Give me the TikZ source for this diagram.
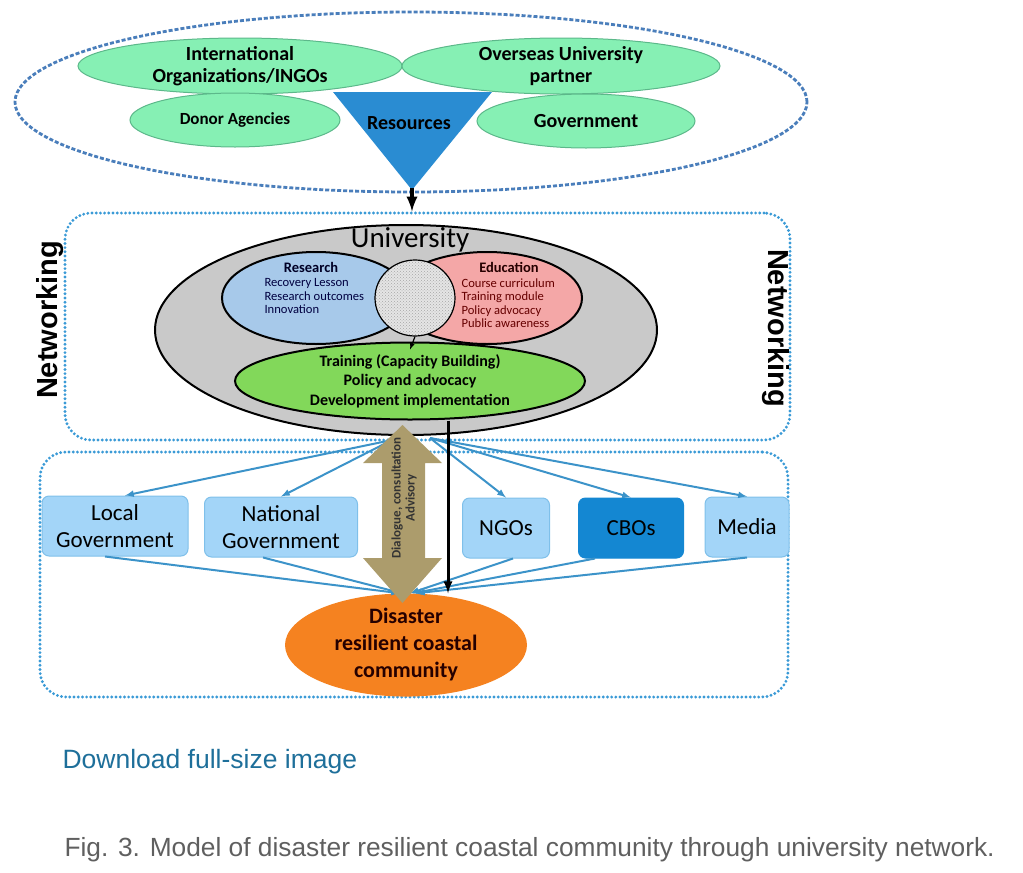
\documentclass[tikz,border=0pt]{standalone}
\usepackage{fontspec}
\setmainfont{Carlito}
\newfontfamily\arialfont{Liberation Sans}
\usepackage{tikz}
\usetikzlibrary{arrows,shapes.geometric,patterns}
\definecolor{dashblue}{HTML}{4A7EBB}
\definecolor{dotblue}{HTML}{3A9AD6}
\definecolor{mint}{HTML}{86F0B4}
\definecolor{mintline}{HTML}{5CB88A}
\definecolor{resblue}{HTML}{2A8CD2}
\definecolor{unigray}{HTML}{C9C9C9}
\definecolor{resfill}{HTML}{A7C9EA}
\definecolor{edufill}{HTML}{F4A7A7}
\definecolor{trainfill}{HTML}{82D85A}
\definecolor{boxblue}{HTML}{A3D5F8}
\definecolor{boxline}{HTML}{7FC0EA}
\definecolor{cbofill}{HTML}{1487D2}
\definecolor{fanblue}{HTML}{3C93C9}
\definecolor{gold}{HTML}{AC9C6C}
\definecolor{disorange}{HTML}{F58220}
\definecolor{linkblue}{HTML}{1E6F9A}
\definecolor{capgray}{HTML}{5F5F5F}
\newcommand\fsz[2]{\fontsize{#1}{#2}\selectfont}

\begin{document}
\begin{tikzpicture}[x=1pt,y=-1pt,>=latex,every node/.style={font=\fsz{20}{22}\bfseries},
  partner/.style={ellipse,draw=mintline,fill=mint,line width=1pt,inner sep=0pt,align=center},
  circlebox/.style={ellipse,draw=black,line width=2pt,inner sep=0pt,align=center},
  actor/.style={rectangle,rounded corners=7pt,draw=boxline,fill=boxblue,line width=1pt,minimum height=60pt,
    align=center,font=\fsz{23}{27}},
  fan/.style={->,draw=fanblue,line width=2pt},
  netbox/.style={draw=dotblue,line width=3.2pt,line cap=round,dash pattern=on 0pt off 4.2pt,rounded corners=26pt},
  sidelabel/.style={font=\arialfont\fsz{29}{32}\bfseries}]
 \useasboundingbox (0,0) rectangle (1023,873);

 \node[ellipse,draw=dashblue,line width=2.8pt,dash pattern=on 4pt off 2pt,minimum width=792pt,minimum height=180pt] (pool) at (411,102) {};
 \node[partner,minimum width=324pt,minimum height=56pt] (intl) at (240,66) {International\\Organizations/INGOs};
 \node[partner,minimum width=318pt,minimum height=56pt] (overseas) at (561,66) {Overseas University\\partner};
 \node[partner,minimum width=210pt,minimum height=54pt,font=\fsz{17}{20}\bfseries] (donor) at (235,120) {Donor Agencies};
 \node[partner,minimum width=218pt,minimum height=54pt] (govt) at (586,121) {Government};
 \fill[resblue] (333,92) -- (492,92) -- (412,190) -- cycle;
 \coordinate (apex) at (412,188);
 \node (res) at (409,123) {Resources};

 \node[netbox,minimum width=725pt,minimum height=227pt] (netmid) at (427.5,326.5) {};
 \draw[->,line width=4pt] (apex) -- (apex |- netmid.north);
 \node[sidelabel,rotate=90] (netl) at (50,320) {Networking};
 \node[sidelabel,rotate=-90] (netr) at (776,328) {Networking};

 \node[circlebox,fill=unigray,minimum width=502pt,minimum height=210pt] (uni) at (406,330) {};
 \node[font=\fsz{29}{32}] (unilabel) at (410,240) {University};
 \node[circlebox,fill=resfill,minimum width=188pt,minimum height=92pt] (research) at (316,298) {};
 \node[circlebox,fill=edufill,minimum width=190pt,minimum height=92pt] (education) at (487,298) {};
 \node[circlebox,line width=1.2pt,minimum width=80pt,minimum height=76pt,preaction={fill=gray!20},
   pattern=crosshatch dots,pattern color=gray!70] (core) at (415,298) {};
 \node[font=\fsz{14.5}{16}\bfseries,text=black!85!blue] (reshead) at (311,267) {Research};
 \node[anchor=north west,align=left,font=\fsz{12.6}{13.5},text=black!75!blue] (resitems) at (261,275)
   {Recovery Lesson\\Research outcomes\\Innovation};
 \node[font=\fsz{14.5}{16}\bfseries,text=black!85!red] (eduhead) at (509,267) {Education};
 \node[anchor=north west,align=left,font=\fsz{12.6}{13.5},text=black!60!red] (eduitems) at (458,275)
   {Course curriculum\\Training module\\Policy advocacy\\Public awareness};
 \node[circlebox,fill=trainfill,minimum width=350pt,minimum height=77pt,font=\fsz{16}{19.5}\bfseries] (train) at (410,381)
   {Training (Capacity Building)\\Policy and advocacy\\Development implementation};
 \draw[->,line width=1.2pt] (core.south) -- ([yshift=-8pt]train.north);

 \node[netbox,minimum width=748pt,minimum height=245pt] (netlow) at (414,574.5) {};
 \node[ellipse,fill=disorange,minimum width=242pt,minimum height=90pt,inner sep=0pt,align=center,
   font=\fsz{22}{27}\bfseries,text=black!85!red] (disaster) at (406,645)
   {Disaster\\resilient coastal\\community};

 \node[actor,minimum width=146pt] (local) at (115,526) {Local\\Government};
 \node[actor,minimum width=153pt] (national) at (281,527) {National\\Government};
 \node[actor,minimum width=87pt] (ngos) at (506,528) {NGOs};
 \node[actor,minimum width=105pt,fill=cbofill,draw=cbofill] (cbos) at (631,528) {CBOs};
 \node[actor,minimum width=84pt] (media) at (747,527) {Media};

 \coordinate (fanl) at (392,440);
 \coordinate (fanr) at (430,438);
 \draw[fan] (fanl) -- ([xshift=10pt]local.north);
 \draw[fan] (fanl) -- (national.north);
 \draw[fan] (fanr) -- (ngos.north);
 \draw[fan] (fanr) -- (cbos.north);
 \draw[fan] (fanr) -- (media.north);
 \draw[fan] ([xshift=-10pt]local.south) -- ([xshift=-6pt]disaster.north);
 \draw[fan] ([xshift=-18pt]national.south) -- ([xshift=-4pt]disaster.north);
 \draw[fan] ([xshift=7pt]ngos.south) -- ([xshift=4pt]disaster.north);
 \draw[fan] ([xshift=-36pt]cbos.south) -- ([xshift=7pt]disaster.north);
 \draw[fan] (media.south) -- ([xshift=10pt]disaster.north);

 \fill[gold] (402.5,425) -- (442,463) -- (425,463) -- (425,558) -- (442,558) -- (402.5,603)
   -- (363,558) -- (382,558) -- (382,463) -- (363,463) -- cycle;
 \node[rotate=90,font=\fsz{13}{14}\bfseries,align=center,text=black!80] (dialogue) at (404,498)
   {Dialogue, consultation\\Advisory};
 \draw[->,line width=3pt] ([xshift=38pt]train.south) -- ([xshift=42pt]disaster.north);

 \node[anchor=west,font=\arialfont\fsz{26.5}{30},text=linkblue] (download) at (59,762) {Download full-size image};
 \node[anchor=west,font=\arialfont\fsz{26.3}{30},text=capgray] (caption) at (61,850)
   {Fig. 3. Model of disaster resilient coastal community through university network.};
\end{tikzpicture}
\end{document}
